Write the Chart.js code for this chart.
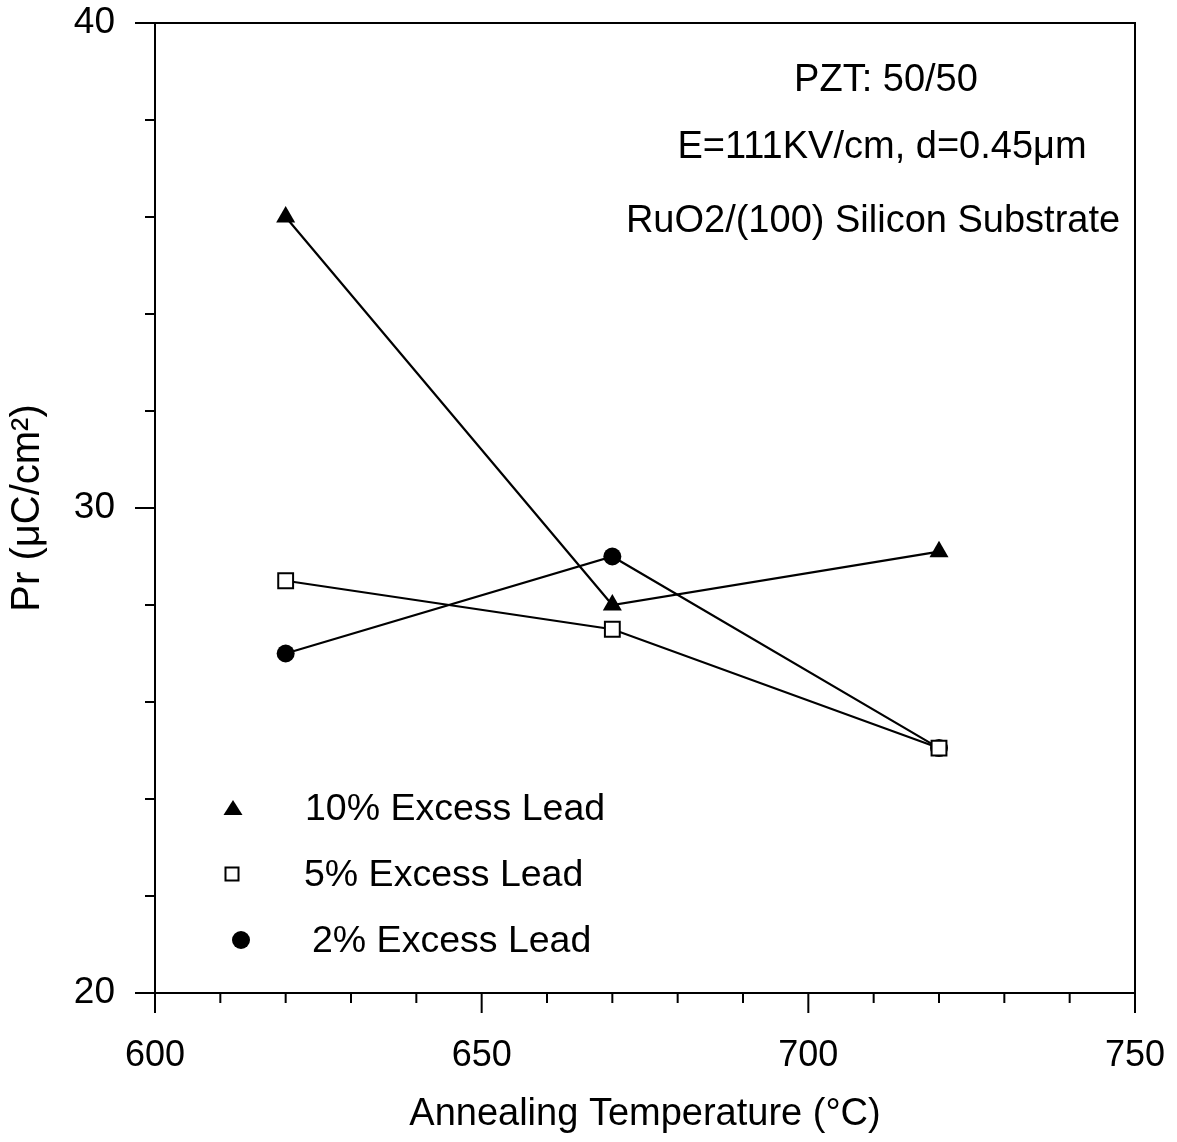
<!DOCTYPE html>
<html>
<head>
<meta charset="utf-8">
<script src="https://cdn.jsdelivr.net/npm/chart.js@4.4.0/dist/chart.umd.min.js"></script>
<style>
    html, body { margin: 0; padding: 0; background: #fff; }
    #wrap { position: relative; width: 1177px; height: 1142px; }
</style>
</head>
<body>
<div id="wrap"><canvas id="prChart"></canvas></div>
<script>
        // remanent polarisation vs annealing temperature
        const temperatures = [620, 670, 720];
        const lead10 = [36.0, 28.0, 29.1];
        const lead5 = [28.5, 27.5, 25.05];
        const lead2 = [27.0, 29.0, 25.05];
        const seriesNames = ['10% Excess Lead', '5% Excess Lead', '2% Excess Lead'];
        const notes = ['PZT: 50/50', 'E=111KV/cm, d=0.45\u03bcm', 'RuO2/(100) Silicon Substrate'];

        const FONT = '"Liberation Sans", Arial, Helvetica, sans-serif';
        Chart.defaults.font.family = FONT;
        Chart.defaults.color = '#000';

        const toPoints = (vals) => temperatures.map((t, i) => ({ x: t, y: vals[i] }));

        function drawMarker(ctx, kind, x, y) {
            ctx.beginPath();
            if (kind === 'triangle') {
                ctx.moveTo(x, y - 8);
                ctx.lineTo(x + 9.5, y + 7);
                ctx.lineTo(x - 9.5, y + 7);
                ctx.closePath();
                ctx.fillStyle = '#000';
                ctx.fill();
            } else if (kind === 'rect') {
                ctx.rect(x - 6.5, y - 6.5, 13, 13);
                ctx.fillStyle = '#fff';
                ctx.fill();
                ctx.lineWidth = 2;
                ctx.strokeStyle = '#000';
                ctx.stroke();
            } else {
                ctx.arc(x, y, 9, 0, Math.PI * 2);
                ctx.fillStyle = '#000';
                ctx.fill();
            }
        }

        const frameAndNotes = {
            id: 'frameAndNotes',
            afterDraw(chart) {
                const { ctx, chartArea: a, scales } = chart;
                ctx.save();
                ctx.strokeStyle = '#000';
                ctx.lineWidth = 2;
                ctx.beginPath();
                // top and right edges of the box
                ctx.moveTo(a.left, a.top);
                ctx.lineTo(a.right, a.top);
                ctx.lineTo(a.right, a.bottom);
                // outward tick marks, longer where labelled
                scales.x.ticks.forEach(t => {
                    const px = scales.x.getPixelForValue(t.value);
                    const len = t.value % 50 === 0 ? 20 : 10;
                    ctx.moveTo(px, a.bottom);
                    ctx.lineTo(px, a.bottom + len);
                });
                scales.y.ticks.forEach(t => {
                    const py = scales.y.getPixelForValue(t.value);
                    const len = t.value % 10 === 0 ? 20 : 10;
                    ctx.moveTo(a.left - len, py);
                    ctx.lineTo(a.left, py);
                });
                ctx.stroke();

                // sample description, top right
                ctx.fillStyle = '#000';
                ctx.font = '38px ' + FONT;
                ctx.textAlign = 'center';
                ctx.textBaseline = 'middle';
                ctx.fillText(notes[0], 886, 81);
                ctx.fillText(notes[1], 882, 148);
                ctx.fillText(notes[2], 873, 222);

                // legend, lower left
                const kinds = ['triangle', 'rect', 'circle'];
                const rows = [[233, 808, 305], [232, 874, 304], [241, 940, 312]];
                ctx.font = '37.5px ' + FONT;
                ctx.textAlign = 'left';
                rows.forEach((r, i) => {
                    drawMarker(ctx, kinds[i], r[0], r[1]);
                    ctx.fillStyle = '#000';
                    ctx.fillText(seriesNames[i], r[2], r[1] + 2);
                });
                ctx.restore();
            }
        };

        const ctxEl = document.getElementById('prChart');
        new Chart(ctxEl, {
            type: 'line',
            data: {
                datasets: [{
                    label: seriesNames[0],
                    data: toPoints(lead10),
                    borderColor: '#000',
                    borderWidth: 2.2,
                    pointStyle: 'triangle',
                    pointRadius: 11,
                    pointBackgroundColor: '#000',
                    pointBorderColor: '#000',
                    pointBorderWidth: 0
                }, {
                    label: seriesNames[1],
                    data: toPoints(lead5),
                    borderColor: '#000',
                    borderWidth: 2.2,
                    pointStyle: 'rect',
                    pointRadius: 10.5,
                    pointBackgroundColor: '#fff',
                    pointBorderColor: '#000',
                    pointBorderWidth: 2
                }, {
                    label: seriesNames[2],
                    data: toPoints(lead2),
                    borderColor: '#000',
                    borderWidth: 2.2,
                    pointStyle: 'circle',
                    pointRadius: 9,
                    pointBackgroundColor: '#000',
                    pointBorderColor: '#000',
                    pointBorderWidth: 0
                }]
            },
            options: {
                responsive: true,
                maintainAspectRatio: false,
                animation: false,
                events: [],
                layout: { padding: { top: 23, right: 42, left: 0, bottom: 0 } },
                plugins: { legend: { display: false }, tooltip: { enabled: false } },
                elements: { line: { tension: 0 } },
                scales: {
                    x: {
                        type: 'linear',
                        min: 600,
                        max: 750,
                        afterFit: s => {
                            s.height = 149;
                            s.paddingLeft = 0;
                            s.paddingRight = 0;
                        },
                        grid: { display: true, drawOnChartArea: false, drawTicks: false },
                        border: { display: true, color: '#000', width: 2 },
                        ticks: {
                            stepSize: 10,
                            autoSkip: false,
                            maxRotation: 0,
                            padding: 41,
                            font: { size: 36 },
                            callback: v => (v % 50 === 0 ? v : '')
                        },
                        title: {
                            display: true,
                            text: 'Annealing Temperature (\u00b0C)',
                            font: { size: 38 },
                            padding: { top: 0, bottom: 5 }
                        }
                    },
                    y: {
                        min: 20,
                        max: 40,
                        afterFit: s => {
                            s.width = 155;
                            s.paddingTop = 0;
                            s.paddingBottom = 0;
                        },
                        grid: { display: true, drawOnChartArea: false, drawTicks: false },
                        border: { display: true, color: '#000', width: 2 },
                        ticks: {
                            stepSize: 2,
                            autoSkip: false,
                            padding: 40,
                            font: { size: 37 },
                            callback: v => (v % 10 === 0 ? v : '')
                        },
                        title: {
                            display: true,
                            text: 'Pr (\u03bcC/cm\u00b2)',
                            font: { size: 40 },
                            padding: { top: 4, bottom: 0 }
                        }
                    }
                }
            },
            plugins: [frameAndNotes]
        });
</script>
</body>
</html>
